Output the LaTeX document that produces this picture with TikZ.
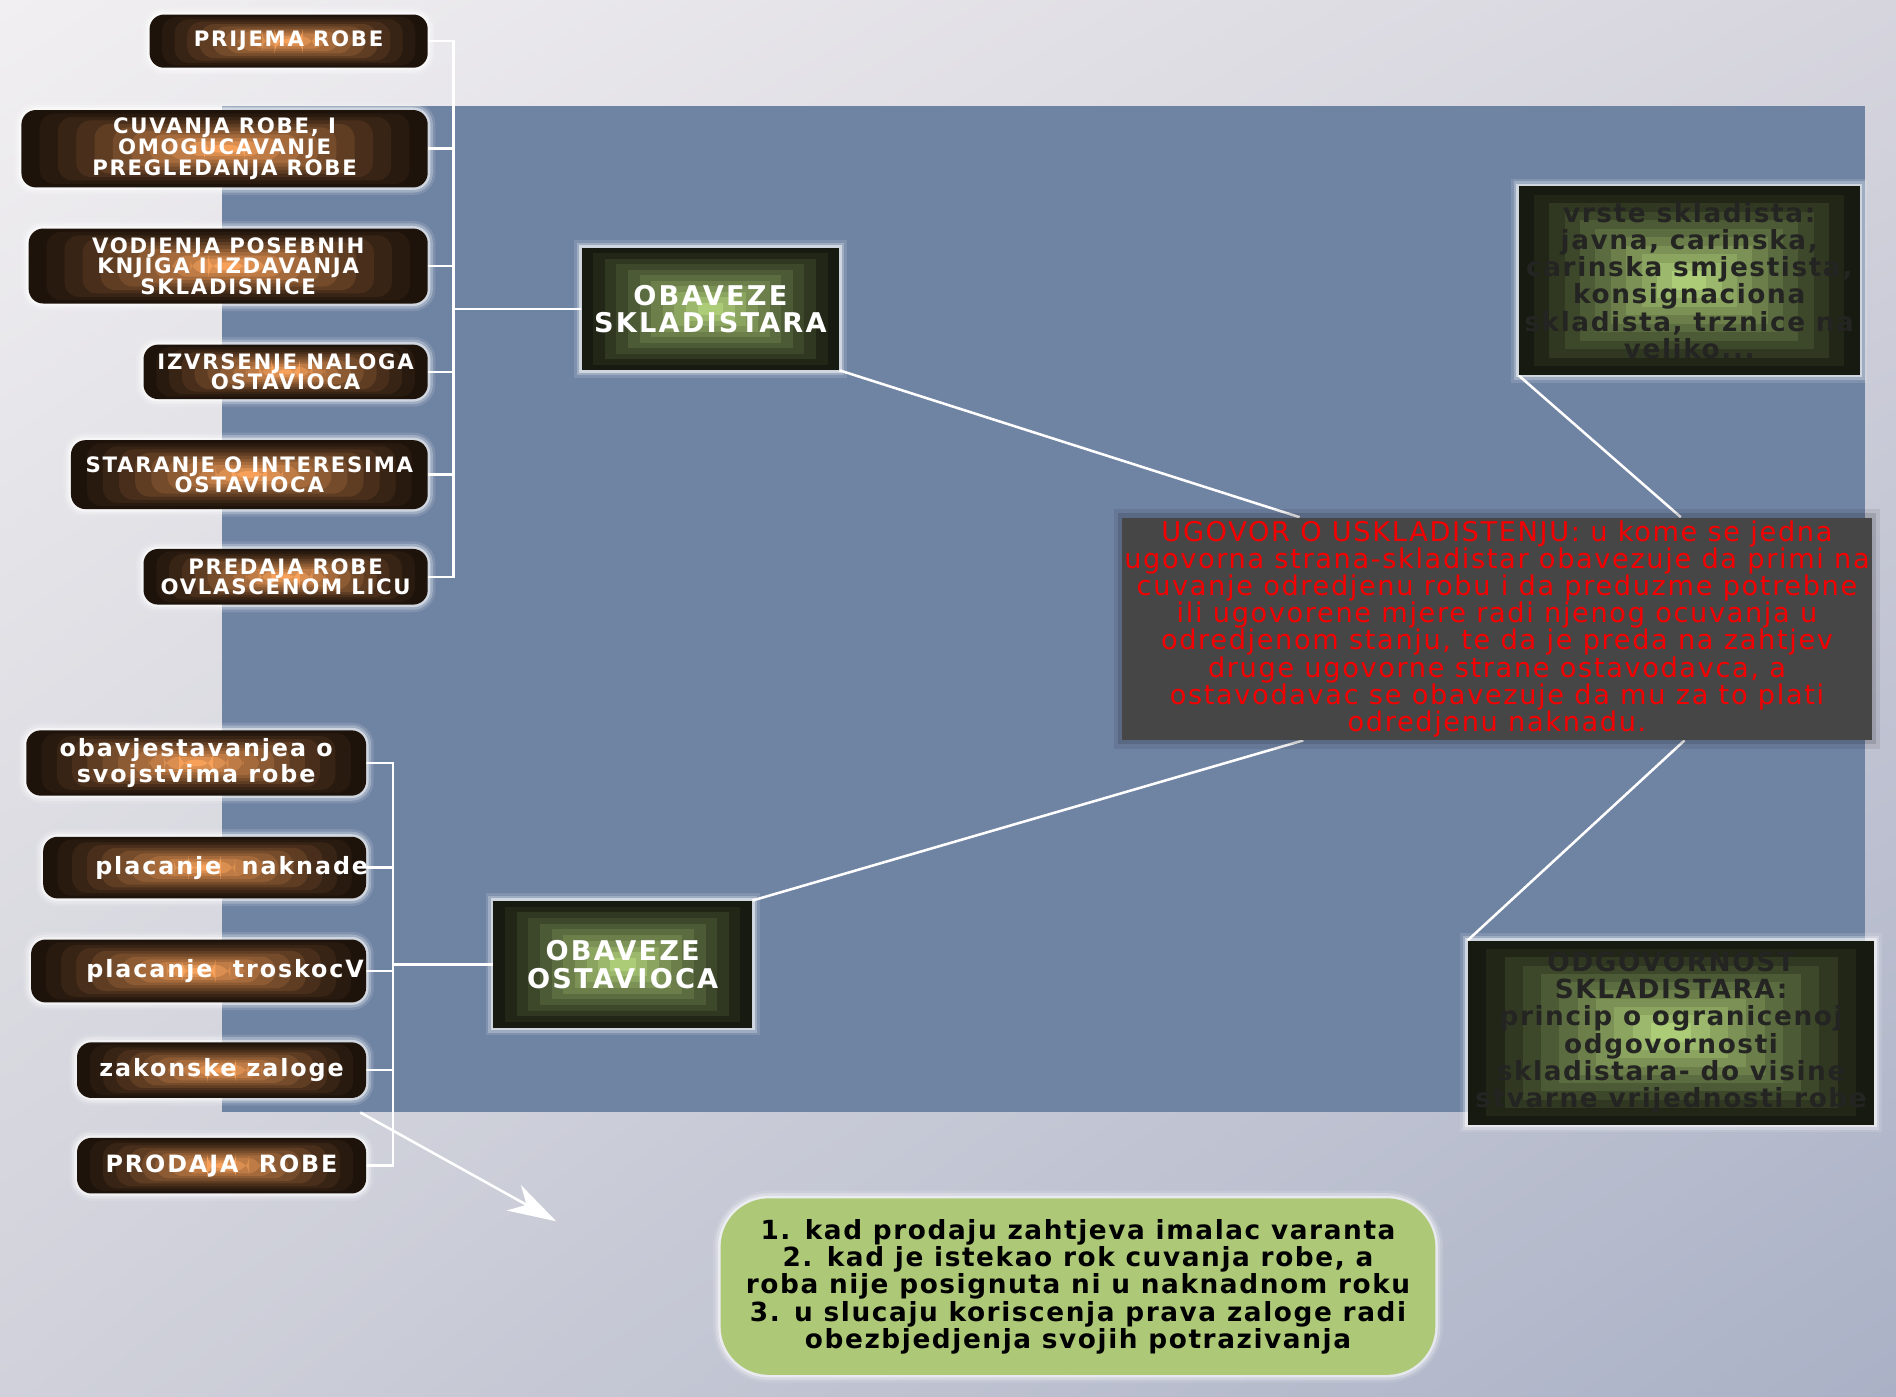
\documentclass[tikz,border=0pt]{standalone}
\usepackage{fontspec}
\setmainfont{DejaVu Sans}
\newfontfamily\widefont{DejaVu Sans}[LetterSpace=8]
\newfontfamily\redfont{DejaVu Sans}[LetterSpace=6]
\newfontfamily\notefont{DejaVu Sans}[LetterSpace=6]
\usetikzlibrary{arrows.meta, positioning, calc, backgrounds, shadings}
\definecolor{paneblue}{RGB}{111,131,163}
\definecolor{bgtl}{RGB}{241,239,241}
\definecolor{bgtr}{RGB}{214,213,222}
\definecolor{bgbl}{RGB}{208,209,218}
\definecolor{bgbr}{RGB}{170,177,198}
\definecolor{browndark}{RGB}{30,19,11}
\definecolor{brownlight}{RGB}{246,160,90}
\definecolor{olivedark}{RGB}{22,26,16}
\definecolor{olivelight}{RGB}{172,204,120}
\definecolor{notegreen}{RGB}{173,201,120}
\definecolor{contractgray}{RGB}{70,70,70}
\definecolor{contractred}{RGB}{245,0,0}
\definecolor{inkdark}{RGB}{36,36,34}
\tikzset{
    bands/.style n args={3}{fill=#1, path picture={
        \foreach \k in {1,...,10}{
            \pgfmathsetmacro\bandpos{0.045*\k}
            \pgfmathtruncatemacro\bandmix{100*(\k/10)^#3}
            \pgfpathrectanglecorners
                {\pgfpointlineattime{\bandpos}{\pgfpointanchor{path picture bounding box}{south west}}{\pgfpointanchor{path picture bounding box}{north east}}}
                {\pgfpointlineattime{\bandpos}{\pgfpointanchor{path picture bounding box}{north east}}{\pgfpointanchor{path picture bounding box}{south west}}}
            \pgfsetfillcolor{#2!\bandmix!#1}
            \pgfusepath{fill}
        }}},
    glow/.style={preaction={draw=white, line width=9pt, opacity=0.12}, preaction={draw=white, line width=6pt, opacity=0.25}, preaction={draw=white, line width=3pt, opacity=0.5}},
    duty/.style={rectangle, rounded corners=3mm, bands={browndark}{brownlight}{1.3}, glow, inner sep=0pt, anchor=east, text=white, align=center, font=\widefont\bfseries\fontsize{12.5}{12.1}\selectfont},
    dutylow/.style={duty, font=\widefont\bfseries\fontsize{14}{14.9}\selectfont},
    dutytext/.style={text=white, font=\widefont\bfseries\fontsize{14}{14.9}\selectfont},
    party/.style={rectangle, bands={olivedark}{olivelight}{1.1}, glow, inner sep=0pt, text=white, align=center, font=\widefont\bfseries\fontsize{16}{16.3}\selectfont},
    fact/.style={rectangle, bands={olivedark}{olivelight}{1.1}, glow, inner sep=0pt},
    facttext/.style={text=inkdark, align=center, font=\notefont\bfseries\fontsize{15.5}{16}\selectfont},
    contract/.style={rectangle, fill=contractgray, preaction={draw=black, line width=10pt, opacity=0.08}, preaction={draw=black, line width=5pt, opacity=0.12}, inner sep=0pt, text=contractred, align=center, font=\redfont\fontsize{16}{16}\selectfont},
    note/.style={rectangle, rounded corners=10mm, fill=notegreen, glow, inner sep=0pt, align=center, font=\notefont\bfseries\fontsize{15.5}{16.1}\selectfont},
    link/.style={draw=white, line width=1.5pt},
}
\begin{document}
\begin{tikzpicture}[x=0.25mm, y=-0.25mm]
\useasboundingbox (0,0) rectangle (1568,1155);
\begin{pgfonlayer}{background}
    \shade[upper left=bgtl, upper right=bgtr, lower left=bgbl, lower right=bgbr] (0,0) rectangle (1568,1155);
    \fill[paneblue] (184,88) rectangle (1542,920);
\end{pgfonlayer}

\node[duty, minimum width=57.5mm, minimum height=11mm] (prijema) at (354,34) {PRIJEMA ROBE};
\node[duty, minimum width=84mm, minimum height=16mm] (cuvanja) at (354,123) {CUVANJA ROBE, I\\OMOGUCAVANJE\\PREGLEDANJA ROBE};
\node[duty, minimum width=82.5mm, minimum height=15.5mm] (vodjenja) at (354,220) {VODJENJA POSEBNIH\\KNJIGA I IZDAVANJA\\SKLADISNICE};
\node[duty, minimum width=58.75mm, minimum height=11.25mm] (izvrsenje) at (354,307.5) {IZVRSENJE NALOGA\\OSTAVIOCA};
\node[duty, minimum width=73.75mm, minimum height=14.25mm] (staranje) at (354,392.5) {STARANJE O INTERESIMA\\OSTAVIOCA};
\node[duty, minimum width=58.75mm, minimum height=11.5mm] (predaja) at (354,477) {PREDAJA ROBE\\OVLASCENOM LICU};

\node[dutylow, minimum width=70.25mm, minimum height=13.5mm] (obav) at (303,631) {obavjestavanjea o\\svojstvima robe};
\node[dutylow, minimum width=66.75mm, minimum height=12.75mm, label={[dutytext, xshift=5.6mm]center:placanje\ \ naknade}] (naknade) at (303,717.5) {};
\node[dutylow, minimum width=69.25mm, minimum height=13mm, label={[dutytext, xshift=5.5mm]center:placanje\ \ troskocV}] (troskov) at (303,803) {};
\node[dutylow, minimum width=59.75mm, minimum height=11.5mm] (zakonske) at (303,885) {zakonske zaloge};
\node[dutylow, minimum width=59.75mm, minimum height=11.5mm] (prodaja) at (303,964) {PRODAJA\ \ ROBE};

\node[party, minimum width=53.25mm, minimum height=25.25mm] (skladistar) at (587.5,255.5) {OBAVEZE\\SKLADISTARA};
\node[party, minimum width=53.5mm, minimum height=26.25mm] (ostavilac) at (515,797.5) {OBAVEZE\\OSTAVIOCA};

\node[fact, minimum width=70.5mm, minimum height=39mm, label={[facttext]center:vrste skladista:\\javna, carinska,\\carinska smjestista,\\konsignaciona\\skladista, trznice na\\veliko...}] (vrste) at (1397,232) {};
\node[fact, minimum width=84mm, minimum height=38mm, label={[facttext]center:ODGOVORNOST\\SKLADISTARA:\\princip o ogranicenoj\\odgovornosti\\skladistara- do visine\\stvarne vrijednosti robe}] (odgovornost) at (1382,854) {};

\node[contract, minimum width=155mm, minimum height=46mm] (ugovor) at (1238,520) {UGOVOR O USKLADISTENJU: u kome se jedna\\ugovorna strana-skladistar obavezuje da primi na\\cuvanje odredjenu robu i da preduzme potrebne\\ili ugovorene mjere radi njenog ocuvanja u\\odredjenom stanju, te da je preda na zahtjev\\druge ugovorne strane ostavodavca, a\\ostavodavac se obavezuje da mu za to plati\\odredjenu naknadu.};

\node[note, minimum width=147.75mm, minimum height=36.5mm] (uslovi) at (891.5,1064) {1. kad prodaju zahtjeva imalac varanta\\2. kad je istekao rok cuvanja robe, a\\roba nije posignuta ni u naknadnom roku\\3. u slucaju koriscenja prava zaloge radi\\obezbjedjenja svojih potrazivanja};

\begin{pgfonlayer}{background}
    \coordinate (trunkS) at (375,255.5);
    \foreach \n in {prijema,cuvanja,vodjenja,izvrsenje,staranje,predaja}
        \draw[link] (\n.east) -| (trunkS);
    \draw[link] (trunkS) -- (skladistar.west);
    \coordinate (trunkO) at (325,797.5);
    \foreach \n in {obav,naknade,troskov,zakonske,prodaja}
        \draw[link] (\n.east) -| (trunkO);
    \draw[link] (trunkO) -- (ostavilac.west);
    \draw[link] (skladistar.south east) -- ($(ugovor.north west)!0.237!(ugovor.north east)$);
    \draw[link] (vrste.south west) -- ($(ugovor.north west)!0.745!(ugovor.north east)$);
    \draw[link] (ostavilac.north east) -- ($(ugovor.south west)!0.242!(ugovor.south east)$);
    \draw[link] (odgovornost.north west) -- ($(ugovor.south west)!0.75!(ugovor.south east)$);
    \coordinate (arrowtail) at (298,920);
    \coordinate (arrowtip) at (460,1010);
    \draw[link, -{Stealth[length=10mm, width=6mm, inset=3mm]}] (arrowtail) -- (arrowtip);
\end{pgfonlayer}
\end{tikzpicture}
\end{document}
